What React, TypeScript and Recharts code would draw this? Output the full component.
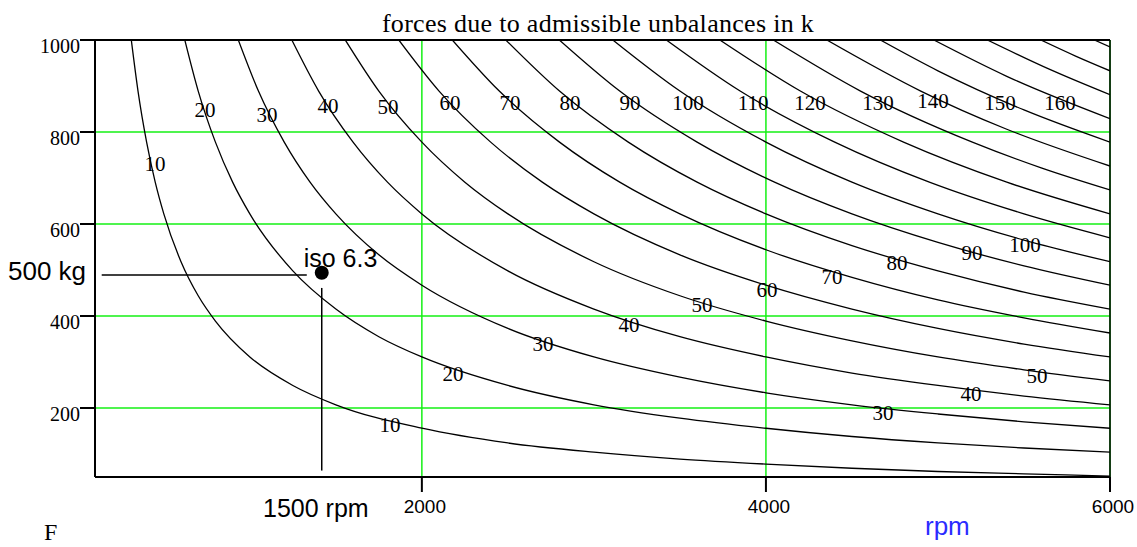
import React from 'react';
import { ComposedChart, Line, Scatter, XAxis, YAxis, CartesianGrid, ReferenceLine } from 'recharts';

// force curves as [rpm, kg] pairs (curve label = force)
const f10 = [[311, 1000], [350, 889], [400, 778], [450, 691], [500, 622], [600, 518], [700, 444], [800, 389], [1000, 311], [1250, 249], [1500, 207], [2000, 156], [2500, 124], [3000, 104], [3500, 89], [4000, 78], [4500, 69], [5000, 62], [5500, 57], [6000, 52]];
const f20 = [[622, 1000], [700, 889], [800, 778], [900, 691], [1000, 622], [1250, 498], [1500, 415], [1750, 355], [2000, 311], [2500, 249], [3000, 207], [3500, 178], [4000, 156], [4500, 138], [5000, 124], [5500, 113], [6000, 104]];
const f30 = [[933, 1000], [1050, 889], [1200, 778], [1350, 691], [1500, 622], [1750, 533], [2000, 467], [2500, 373], [3000, 311], [3500, 267], [4000, 233], [4500, 207], [5000, 187], [5500, 170], [6000, 156]];
const f40 = [[1244, 1000], [1400, 889], [1600, 778], [1800, 691], [2000, 622], [2500, 498], [3000, 415], [3500, 355], [4000, 311], [4500, 276], [5000, 249], [5500, 226], [6000, 207]];
const f50 = [[1555, 1000], [1750, 889], [2000, 778], [2250, 691], [2500, 622], [3000, 518], [3500, 444], [4000, 389], [4500, 346], [5000, 311], [5500, 283], [6000, 259]];
const f60 = [[1866, 1000], [2100, 889], [2400, 778], [2700, 691], [3000, 622], [3500, 533], [4000, 467], [4500, 415], [5000, 373], [5500, 339], [6000, 311]];
const f70 = [[2177, 1000], [2450, 889], [2800, 778], [3150, 691], [3500, 622], [4000, 544], [4500, 484], [5000, 435], [5500, 396], [6000, 363]];
const f80 = [[2488, 1000], [2800, 889], [3200, 778], [3600, 691], [4000, 622], [4500, 553], [5000, 498], [5500, 452], [6000, 415]];
const f90 = [[2799, 1000], [3150, 889], [3600, 778], [4050, 691], [4500, 622], [5000, 560], [5500, 509], [6000, 467]];
const f100 = [[3110, 1000], [3500, 889], [4000, 778], [4500, 691], [5000, 622], [5500, 565], [6000, 518]];
const f110 = [[3421, 1000], [3850, 889], [4400, 778], [4950, 691], [5500, 622], [6000, 570]];
const f120 = [[3732, 1000], [4200, 889], [4800, 778], [5400, 691], [6000, 622]];
const f130 = [[4043, 1000], [4550, 889], [5200, 778], [5600, 722], [6000, 674]];
const f140 = [[4354, 1000], [4900, 889], [5400, 806], [6000, 726]];
const f150 = [[4665, 1000], [5000, 933], [5500, 848], [6000, 778]];
const f160 = [[4976, 1000], [5400, 921], [6000, 829]];
const f170 = [[5287, 1000], [5650, 936], [6000, 881]];
const f180 = [[5598, 1000], [5800, 965], [6000, 933]];
const f190 = [[5909, 1000], [6000, 985]];

const forceCurves = [f10, f20, f30, f40, f50, f60, f70, f80, f90, f100, f110, f120, f130, f140, f150, f160, f170, f180, f190];

// curve labels [rpm, kg, text]
const upperLabels = [
  [449, 730, '10'], [739, 848, '20'], [1100, 837, '30'], [1454, 857, '40'], [1803, 854, '50'],
  [2164, 863, '60'], [2512, 863, '70'], [2861, 863, '80'], [3210, 863, '90'], [3547, 863, '100'],
  [3925, 863, '110'], [4256, 863, '120'], [4651, 863, '130'], [4971, 867, '140'], [5361, 863, '150'],
  [5709, 863, '160'],
];
const lowerLabels = [
  [1815, 163, '10'], [2181, 274, '20'], [2704, 339, '30'], [3204, 380, '40'], [3628, 424, '50'],
  [4006, 457, '60'], [4384, 485, '70'], [4762, 515, '80'], [5198, 537, '90'], [5506, 554, '100'],
  [4681, 189, '30'], [5192, 230, '40'], [5576, 270, '50'],
];

// iso 6.3 operating point and its guide lines
const isoPoint = [[1418, 494]];
const isoLabel = [[1527, 527, 'iso 6.3']];
const guideKg = [[139, 489], [1331, 489]];
const guideRpm = [[1418, 461], [1418, 64]];

const xTicks = [2000, 4000, 6000];
const yTicks = [200, 400, 600, 800, 1000];

const SERIF = '"Liberation Serif", "Times New Roman", serif';
const SANS = '"Liberation Sans", Arial, sans-serif';

const toPoints = (arr: number[][]) => arr.map(([rpm, kg]) => ({ rpm, kg }));
const toLabels = (arr: any[][]) => arr.map(([rpm, kg, text]) => ({ rpm, kg, text }));

const CurveLabel = (props: any) => {
  const { cx, cy, payload } = props;
  return (
    <text x={cx} y={cy} textAnchor="middle" dominantBaseline="central" fontFamily={SERIF} fontSize={21} fill="#000">
      {payload.text}
    </text>
  );
};

const IsoLabel = (props: any) => {
  const { cx, cy, payload } = props;
  return (
    <text x={cx} y={cy} textAnchor="middle" dominantBaseline="central" fontFamily={SANS} fontSize={25} fill="#000">
      {payload.text}
    </text>
  );
};

const IsoDot = (props: any) => <circle cx={props.cx} cy={props.cy} r={7} fill="#000" />;

const XTick = (props: any) => {
  const { x, y, payload } = props;
  return (
    <text x={x + 3} y={y + 12} textAnchor="middle" dominantBaseline="central" fontFamily={SANS} fontSize={19} fill="#000">
      {payload.value}
    </text>
  );
};

const YTick = (props: any) => {
  const { x, y, payload } = props;
  return (
    <text x={x + 2} y={y + 6} textAnchor="end" dominantBaseline="central" fontFamily={SERIF} fontSize={20} fill="#000">
      {payload.value}
    </text>
  );
};

const App: React.FC = () => {
  return (
    <div style={{ position: 'absolute', left: 0, top: 0, width: 1137, height: 547, background: '#fff' }}>
      <ComposedChart width={1137} height={547} margin={{ top: 40, right: 27, bottom: 0, left: 0 }}>
        <CartesianGrid stroke="#14f014" strokeWidth={1.5} />
        <XAxis
          type="number"
          dataKey="rpm"
          domain={[100, 6000]}
          ticks={xTicks}
          interval={0}
          allowDataOverflow
          height={70}
          tickSize={15}
          axisLine={{ stroke: '#000', strokeWidth: 2 }}
          tickLine={{ stroke: '#000', strokeWidth: 2 }}
          tick={<XTick />}
        />
        <YAxis
          type="number"
          dataKey="kg"
          domain={[50, 1000]}
          ticks={yTicks}
          interval={0}
          allowDataOverflow
          width={95}
          tickSize={15}
          axisLine={{ stroke: '#000', strokeWidth: 2 }}
          tickLine={{ stroke: '#000', strokeWidth: 2 }}
          tick={<YTick />}
        />
        <ReferenceLine y={1000} stroke="#000" strokeWidth={2} />
        <ReferenceLine x={6000} stroke="#000" strokeWidth={1.5} />
        {forceCurves.map((curve, i) => (
          <Line
            key={i}
            data={toPoints(curve)}
            dataKey="kg"
            type="monotone"
            stroke="#000"
            strokeWidth={1.3}
            dot={false}
            isAnimationActive={false}
          />
        ))}
        <Line data={toPoints(guideKg)} dataKey="kg" type="linear" stroke="#000" strokeWidth={1.5} dot={false} isAnimationActive={false} />
        <Line data={toPoints(guideRpm)} dataKey="kg" type="linear" stroke="#000" strokeWidth={1.5} dot={false} isAnimationActive={false} />
        <Scatter data={toLabels(upperLabels)} dataKey="kg" shape={CurveLabel} isAnimationActive={false} />
        <Scatter data={toLabels(lowerLabels)} dataKey="kg" shape={CurveLabel} isAnimationActive={false} />
        <Scatter data={toLabels(isoLabel)} dataKey="kg" shape={IsoLabel} isAnimationActive={false} />
        <Scatter data={toPoints(isoPoint)} dataKey="kg" shape={IsoDot} isAnimationActive={false} />
      </ComposedChart>
      <svg width={1137} height={547} style={{ position: 'absolute', left: 0, top: 0, pointerEvents: 'none' }}>
        <text x={598} y={32} textAnchor="middle" fontFamily={SERIF} fontSize={26} letterSpacing={0.3} fill="#000">
          forces due to admissible unbalances in k
        </text>
        <text x={8} y={280} fontFamily={SANS} fontSize={26} fill="#000">500 kg</text>
        <text x={263} y={517} fontFamily={SANS} fontSize={25} fill="#000">1500 rpm</text>
        <text x={925} y={535} fontFamily={SANS} fontSize={26} fill="#2b2bff">rpm</text>
        <text x={44} y={540} fontFamily={SERIF} fontSize={24} fill="#000">F</text>
      </svg>
    </div>
  );
};

export default App;
